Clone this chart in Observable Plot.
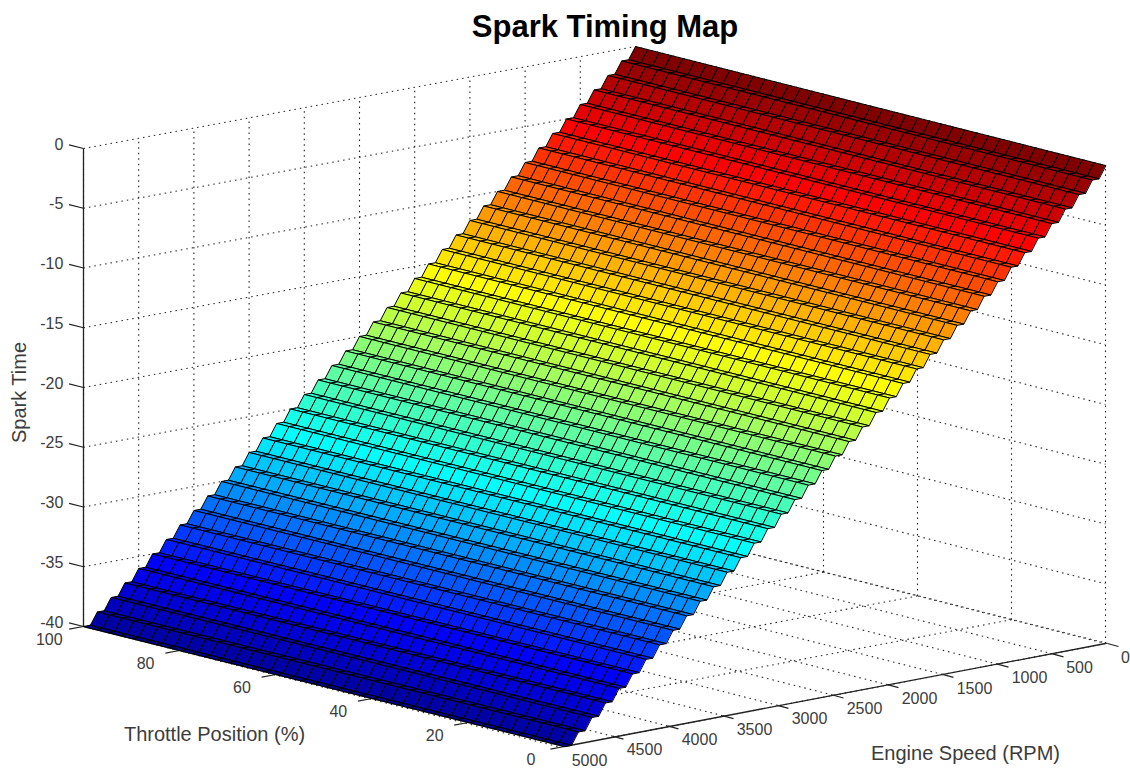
<!DOCTYPE html>
<html>
<head>
<meta charset="utf-8">
<script src="https://cdn.jsdelivr.net/npm/d3@7"></script>
<script src="https://cdn.jsdelivr.net/npm/@observablehq/plot@0.6"></script>
<style>
  html, body { margin: 0; padding: 0; background: #fff; overflow: hidden; }
  #title { height: 44px; width: 1130px; box-sizing: border-box; padding: 11px 0 0 80px; text-align: center;
    font: bold 31px/32px "Liberation Sans", Arial, sans-serif; color: #000; }
  svg { display: block; }
</style>
</head>
<body>
<div id="title">Spark Timing Map</div>
<div id="chart"></div>
<script>
const throttle = [0,2.5,5,7.5,10,12.5,15,17.5,20,22.5,25,27.5,30,32.5,35,37.5,40,42.5,45,47.5,50,52.5,55,57.5,60,62.5,65,67.5,70,72.5,75,77.5,80,82.5,85,87.5,90,92.5,95,97.5,100];
const rpm = [5000,4937.5,4875,4812.5,4750,4687.5,4625,4562.5,4500,4437.5,4375,4312.5,4250,4187.5,4125,4062.5,4000,3937.5,3875,3812.5,3750,3687.5,3625,3562.5,3500,3437.5,3375,3312.5,3250,3187.5,3125,3062.5,3000,2937.5,2875,2812.5,2750,2687.5,2625,2562.5,2500,2437.5,2375,2312.5,2250,2187.5,2125,2062.5,2000,1937.5,1875,1812.5,1750,1687.5,1625,1562.5,1500,1437.5,1375,1312.5,1250,1187.5,1125,1062.5,1000,937.5,875,812.5,750,687.5,625,562.5,500,437.5,375,312.5,250,187.5,125,62.5,0];
const spark = [-40,-40,-39,-39,-38,-38,-37,-37,-36,-36,-35,-35,-34,-34,-33,-33,-32,-32,-31,-31,-30,-30,-29,-29,-28,-28,-27,-27,-26,-26,-25,-25,-24,-24,-23,-23,-22,-22,-21,-21,-20,-20,-19,-19,-18,-18,-17,-17,-16,-16,-15,-15,-14,-14,-13,-13,-12,-12,-11,-11,-10,-10,-9,-9,-8,-8,-7,-7,-6,-6,-5,-5,-4,-4,-3,-3,-2,-2,-1,-1,0];

const throttleTicks = [0,20,40,60,80,100];
const rpmTicks = [0,500,1000,1500,2000,2500,3000,3500,4000,4500,5000];
const sparkTicks = [0,-5,-10,-15,-20,-25,-30,-35,-40];
const jetStops = [-40,-35,-26,-15,-5,0];
const jetColors = ["#00008f","#0000ff","#00ffff","#ffff00","#ff0000","#800000"];

// Oblique view of the axes box.
const view = { front:[564,746], left:[83,626], right:[1105,643], back:[635,524], zPx:478, railX:1107, railPerRpm:0.11 };
function project(t, r, z) {
  const u = t / 100, v = 1 - r / 5000;
  const f = i => (1-u)*(1-v)*view.front[i] + u*(1-v)*view.left[i] + (1-u)*v*view.right[i] + u*v*view.back[i];
  return [f(0), f(1) - (z + 40) / 40 * view.zPx];
}
// Front rpm axis: its ticks run on their own even spacing in the picture.
const rail = r => [view.railX - view.railPerRpm * r, project(0, r, -40)[1]];

const cells = [];
let id = 0;
for (let j = rpm.length - 2; j >= 0; j--) {
  for (let i = 0; i < throttle.length - 1; i++) {
    const value = Math.max(spark[j], spark[j+1]);
    const corners = [[throttle[i],rpm[j],spark[j]],[throttle[i+1],rpm[j],spark[j]],[throttle[i+1],rpm[j+1],spark[j+1]],[throttle[i],rpm[j+1],spark[j+1]]];
    for (const c of corners) {
      const [x,y] = project(...c);
      cells.push({id, x, y, value});
    }
    id++;
  }
}

const link = (p, q) => ({x1:p[0], y1:p[1], x2:q[0], y2:q[1]});
const seg = (a, b) => link(project(...a), project(...b));

const grid = [];
for (const z of sparkTicks) {
  grid.push(seg([100,5000,z],[100,0,z]));
  grid.push(seg([100,0,z],[0,0,z]));
}
for (const r of rpmTicks) {
  grid.push(seg([100,r,-40],[100,r,0]));
  grid.push(link(rail(r), project(100,r,-40)));
}
for (const t of throttleTicks) {
  grid.push(seg([t,0,-40],[t,0,0]));
  grid.push(seg([t,0,-40],[t,5000,-40]));
}

const axes = [
  seg([100,5000,-40],[100,5000,0]),
  seg([0,5000,-40],[100,5000,-40]),
  seg([0,5000,-40],[0,0,-40])
];
const ticks = [
  ...sparkTicks.map(z => seg([100,5000,z],[103,5000,z])),
  ...throttleTicks.map(t => seg([t,5000,-40],[t,5130,-40])),
  ...rpmTicks.filter(r => r < 5000).map(r => { const p = rail(r); return link(p, [p[0]+11, p[1]+3]); })
];

const rpmLabelNudge = new Map([[0,-14],[500,-5]]);
const labels = [
  ...sparkTicks.map(z => { const [x,y] = project(104.2,5000,z); return {x, y:y+1, text:String(z), anchor:"end"}; }),
  ...throttleTicks.map(t => { const [x,y] = project(t,5310,-40); return {x, y:y+7, text:String(t), anchor:"middle"}; }),
  ...rpmTicks.map(r => { const [x,y] = rail(r); return {x:x+32+(rpmLabelNudge.get(r)||0), y:y+14, text:String(r), anchor:"middle"}; })
];

const ink = "#3c3c3c";
const font = {fontFamily:"Liberation Sans, Arial, sans-serif"};

const plot = Plot.plot({
  width: 1130, height: 724,
  marginTop: 0, marginRight: 0, marginBottom: 0, marginLeft: 0,
  x: {domain:[0,1130], range:[0,1130], axis:null},
  y: {domain:[44,768], range:[0,724], axis:null},
  color: {type:"linear", domain:jetStops, range:jetColors, interpolate:"rgb", legend:false},
  style: {background:"#fff", ...font},
  marks: [
    Plot.link(grid, {x1:"x1", y1:"y1", x2:"x2", y2:"y2", stroke:"#222", strokeWidth:1.1, strokeDasharray:"1.5 4"}),
    Plot.link(axes, {x1:"x1", y1:"y1", x2:"x2", y2:"y2", stroke:"#222", strokeWidth:1.3}),
    Plot.link(ticks, {x1:"x1", y1:"y1", x2:"x2", y2:"y2", stroke:"#222", strokeWidth:1.2}),
    Plot.line(cells, {x:"x", y:"y", z:"id", fill:"value", stroke:"#000", strokeWidth:1, curve:"linear-closed"}),
    Plot.text(labels.filter(d => d.anchor === "end"), {x:"x", y:"y", text:"text", textAnchor:"end", fontSize:16, fill:ink}),
    Plot.text(labels.filter(d => d.anchor === "middle"), {x:"x", y:"y", text:"text", textAnchor:"middle", fontSize:16, fill:ink}),
    Plot.text(["Throttle Position (%)"], {frameAnchor:"bottom-left", dx:214, dy:-28, textAnchor:"middle", fontSize:20, fill:ink}),
    Plot.text(["Engine Speed (RPM)"], {frameAnchor:"bottom-left", dx:965, dy:-9, textAnchor:"middle", fontSize:20, fill:ink}),
    Plot.text(["Spark Time"], {frameAnchor:"left", dx:19, dy:-14, rotate:-90, textAnchor:"middle", fontSize:20, fill:ink})
  ]
});
document.getElementById("chart").append(plot);
</script>
</body>
</html>
